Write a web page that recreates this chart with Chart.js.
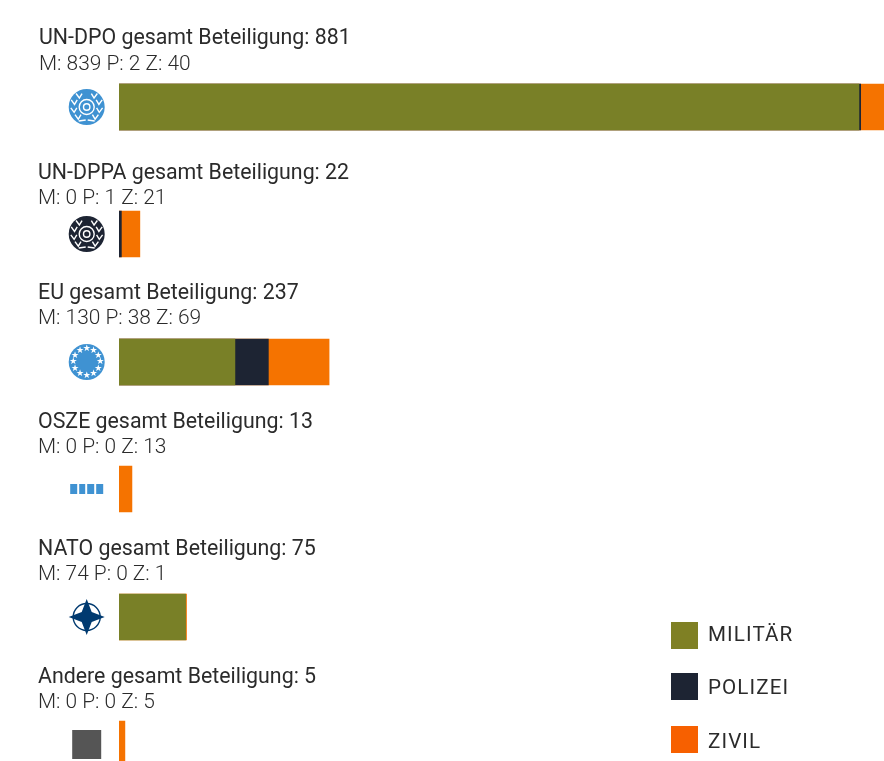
<!DOCTYPE html>
<html lang="de">
<head>
<meta charset="utf-8">
<title>Beteiligung</title>
<style>
html, body { margin: 0; padding: 0; background: #fff; }
#page { position: relative; width: 884px; height: 761px; overflow: hidden; font-family: Roboto, sans-serif; color: #2b2b2b; }
#chart { position: absolute; left: 0; top: 0; }
.title { position: absolute; font-size: 21.35px; line-height: 24px; white-space: nowrap; }
.sub { position: absolute; font-size: 20.9px; line-height: 24px; font-weight: 300; white-space: nowrap; }
.legend-label { position: absolute; left: 708px; font-size: 20.6px; letter-spacing: 1.1px; line-height: 27px; white-space: nowrap; }
.legend-box { position: absolute; left: 671px; width: 27px; height: 27px; }
</style>
</head>
<body>
<div id="page">
    <canvas id="chart" width="1000" height="808"></canvas>
</div>
<script src="https://cdn.jsdelivr.net/npm/chart.js@4"></script>
<script>
// values
const categories = ["UN-DPO", "UN-DPPA", "EU", "OSZE", "NATO", "Andere"];
const gesamt = [881, 22, 237, 13, 75, 5];
const militaer = [839, 0, 130, 0, 74, 0];
const polizei = [2, 1, 38, 0, 0, 0];
const zivil = [40, 21, 69, 13, 1, 5];
const seriesNames = ["MILITÄR", "POLIZEI", "ZIVIL"];

const barColors = ["#798027", "#1d2433", "#f57300"];
const legendColors = ["#7f8024", "#1d2433", "#f76000"];
const legendBoxTops = [622, 673, 726];
const legendLabelTops = [621, 674, 728];
const titleTops = [25, 160, 280, 409, 536, 664];
const subTops = [51, 185, 305, 434, 561, 689];
const textLefts = [39, 38, 38, 38, 38, 38];

// bars in the picture start a little left of zero
const barBase = -1.7;

function drawLaurel(ctx, cx, cy, color) {
    ctx.strokeStyle = color;
    ctx.lineWidth = 1.4;
    ctx.beginPath();
    ctx.arc(cx, cy, 7.5, 0, Math.PI * 2);
    ctx.stroke();
    ctx.beginPath();
    ctx.arc(cx, cy, 3.2, 0, Math.PI * 2);
    ctx.stroke();
    // small leaves on both sides
    [-1, 1].forEach(side => {
        [-0.95, -0.35, 0.25, 0.85].forEach(a => {
            let x = cx + side * 13.5 * Math.cos(a);
            let y = cy + 13.5 * Math.sin(a);
            ctx.beginPath();
            ctx.moveTo(x - side * 3.2, y - 2.5);
            ctx.lineTo(x - side * 0.5, y + 2);
            ctx.lineTo(x + side * 2.8, y - 2.5);
            ctx.stroke();
        });
        ctx.beginPath();
        ctx.moveTo(cx + side * 1, cy + 13);
        ctx.lineTo(cx + side * 8, cy + 14);
        ctx.stroke();
    });
}

function drawIcon(ctx, name, cx, cy) {
    ctx.save();
    if (name === "UN-DPO" || name === "UN-DPPA") {
        ctx.fillStyle = name === "UN-DPO" ? "#3f92d2" : "#1d2433";
        ctx.beginPath();
        ctx.arc(cx, cy, 18, 0, Math.PI * 2);
        ctx.fill();
        drawLaurel(ctx, cx, cy, "#fff");
    } else if (name === "EU") {
        ctx.fillStyle = "#3f92d2";
        ctx.beginPath();
        ctx.arc(cx, cy, 18, 0, Math.PI * 2);
        ctx.fill();
        ctx.fillStyle = "#fff";
        ctx.font = "9px 'DejaVu Sans'";
        ctx.textAlign = "center";
        ctx.textBaseline = "middle";
        for (let i = 0; i < 12; i++) {
            let a = i * Math.PI / 6;
            ctx.fillText("★", cx + 13.5 * Math.sin(a), cy - 13.5 * Math.cos(a));
        }
    } else if (name === "OSZE") {
        ctx.fillStyle = "#3f92d2";
        [[-16.5, 7], [-7.5, 6], [0.5, 7], [9.5, 7]].forEach(s => {
            ctx.fillRect(cx + s[0], cy - 5, s[1], 10);
        });
    } else if (name === "NATO") {
        ctx.strokeStyle = "#003a70";
        ctx.lineWidth = 1.4;
        ctx.beginPath();
        ctx.arc(cx, cy, 13.5, 0, Math.PI * 2);
        ctx.stroke();
        ctx.fillStyle = "#003a70";
        ctx.beginPath();
        ctx.moveTo(cx, cy - 18);
        ctx.lineTo(cx + 5, cy - 5);
        ctx.lineTo(cx + 18, cy);
        ctx.lineTo(cx + 5, cy + 5);
        ctx.lineTo(cx, cy + 18);
        ctx.lineTo(cx - 5, cy + 5);
        ctx.lineTo(cx - 18, cy);
        ctx.lineTo(cx - 5, cy - 5);
        ctx.closePath();
        ctx.fill();
    } else {
        ctx.fillStyle = "#555555";
        ctx.fillRect(cx - 14.5, cy - 14, 29, 29);
    }
    ctx.restore();
}

const iconPlugin = {
    id: "icons",
    // keep bar edges on whole pixels
    beforeDatasetsDraw(chart) {
        chart.getSortedVisibleDatasetMetas().forEach(meta => {
            meta.data.forEach(bar => { bar.y = Math.round(bar.y); });
        });
    },
    afterDatasetsDraw(chart) {
        let yScale = chart.scales.y;
        categories.forEach((name, i) => {
            drawIcon(chart.ctx, name, 86.7, Math.round(yScale.getPixelForValue(i)));
        });
    }
};

new Chart(document.getElementById("chart").getContext("2d"), {
    type: "bar",
    data: {
        labels: categories,
        datasets: [
            { label: seriesNames[0], data: militaer.map(v => v || null), backgroundColor: barColors[0] },
            { label: seriesNames[1], data: polizei.map(v => v || null), backgroundColor: barColors[1] },
            { label: seriesNames[2], data: zivil, backgroundColor: barColors[2] }
        ]
    },
    options: {
        indexAxis: "y",
        responsive: false,
        animation: false,
        datasets: { bar: { barThickness: 46, borderWidth: 0, base: barBase } },
        layout: { padding: { left: 119, top: 43.3, right: 0, bottom: 0 } },
        plugins: { legend: { display: false }, tooltip: { enabled: false } },
        scales: {
            x: { stacked: true, display: false, min: barBase, max: 999.3 },
            y: { stacked: true, display: false }
        }
    },
    plugins: [iconPlugin]
});

let page = document.getElementById("page");

categories.forEach((name, i) => {
    let title = document.createElement("div");
    title.className = "title";
    title.style.left = textLefts[i] + "px";
    title.style.top = titleTops[i] + "px";
    title.textContent = `${name} gesamt Beteiligung: ${gesamt[i]}`;
    page.appendChild(title);

    let sub = document.createElement("div");
    sub.className = "sub";
    sub.style.left = textLefts[i] + "px";
    sub.style.top = subTops[i] + "px";
    sub.textContent = `M: ${militaer[i]} P: ${polizei[i]} Z: ${zivil[i]}`;
    page.appendChild(sub);
});

seriesNames.forEach((name, i) => {
    let box = document.createElement("div");
    box.className = "legend-box";
    box.style.top = legendBoxTops[i] + "px";
    box.style.background = legendColors[i];
    page.appendChild(box);

    let label = document.createElement("div");
    label.className = "legend-label";
    label.style.top = legendLabelTops[i] + "px";
    label.textContent = name;
    page.appendChild(label);
});
</script>
</body>
</html>
